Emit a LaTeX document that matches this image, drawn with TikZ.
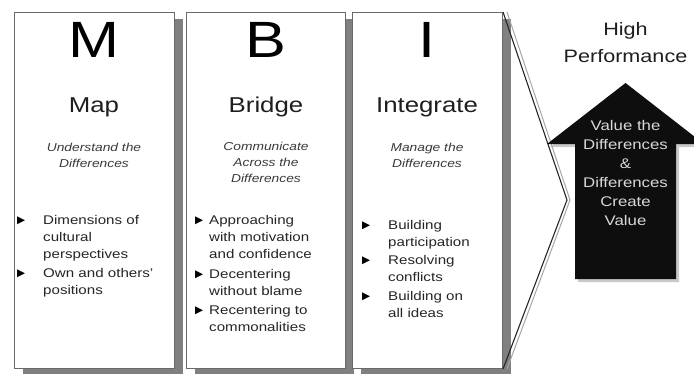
\documentclass[tikz,border=0pt]{standalone}
\usepackage{fontspec}
\setmainfont{Liberation Sans}[FakeStretch=1.2]
\newfontfamily\symfont{DejaVu Sans}
\usetikzlibrary{shadows}
\definecolor{panelline}{HTML}{6A6A6A}
\definecolor{shadowgray}{HTML}{808080}
\definecolor{titlegray}{HTML}{1E1E1E}
\definecolor{mottogray}{HTML}{3A3A3A}
\definecolor{itemgray}{HTML}{262626}
\definecolor{arrowfill}{HTML}{0E0E0E}
\definecolor{arrowtext}{HTML}{D8D8D8}
\begin{document}
% multi-line nodes are placed by the baseline of their last line
\begin{tikzpicture}[x=1pt,y=-1pt,
  panel/.style={draw=panelline, line width=1pt, fill=white, anchor=north west,
    minimum height=356, inner sep=0pt,
    general shadow={fill=shadowgray, shadow xshift=8pt, shadow yshift=-6pt}},
  letter/.style={font=\fontsize{51}{51}\selectfont, anchor=base, inner sep=0pt},
  title/.style={font=\fontsize{21.5}{24}\selectfont, anchor=base, inner sep=0pt, text=titlegray},
  motto/.style={font=\fontsize{11.5}{16}\selectfont\itshape, anchor=base, inner sep=0pt,
    align=center, text=mottogray},
  item/.style={font=\fontsize{12.6}{17}\selectfont, anchor=base west, inner sep=0pt,
    align=left, text=itemgray},
  bullet/.style={font=\symfont\fontsize{10.5}{10.5}\selectfont, anchor=base west, inner sep=0pt,
    yshift=0.5pt},
  chevron/.style={draw=black!85, line width=1.1pt, line join=miter},
]
\useasboundingbox (0,0) rectangle (694,373);
\clip (0,0) rectangle (694,373);
\fill[white] (0,0) rectangle (694,373);

% the three stage panels
\node[panel, minimum width=160] (mapbox) at (14,12) {};
\node[panel, minimum width=159] (bridgebox) at (186,12) {};
\node[panel, minimum width=150] (intbox) at (352,12) {};

% chevron pointing to the goal
\coordinate (tip) at (567,200);
\draw[shadowgray!70, line width=1pt] ([xshift=4pt]intbox.north east) -- ([xshift=3pt]tip) -- ([xshift=4pt]intbox.south east);
\draw[chevron] (intbox.north east) -- (tip) -- (intbox.south east);

% Map
\node[letter] (mletter) at (94,57) {M};
\node[title] (maptitle) at (94,112.5) {Map};
\node[motto] (mapmotto) at (94,167.5) {Understand the\\Differences};
\node[bullet] (mb1) at (17,224) {▶};
\node[item] (mi1) at (43,258) {Dimensions of\\cultural\\perspectives};
\node[bullet] (mb2) at (17,277) {▶};
\node[item] (mi2) at (43,294) {Own and others'\\positions};

% Bridge
\node[letter] (bletter) at (266,57) {B};
\node[title] (bridgetitle) at (266,112.5) {Bridge};
\node[motto] (bridgemotto) at (266,182.5) {Communicate\\Across the\\Differences};
\node[bullet] (bb1) at (195,224) {▶};
\node[item] (bi1) at (209,258) {Approaching\\with motivation\\and confidence};
\node[bullet] (bb2) at (195,278) {▶};
\node[item] (bi2) at (209,295) {Decentering\\without blame};
\node[bullet] (bb3) at (195,314) {▶};
\node[item] (bi3) at (209,331) {Recentering to\\commonalities};

% Integrate
\node[letter] (iletter) at (427,57) {I};
\node[title] (inttitle) at (427,112.5) {Integrate};
\node[motto] (intmotto) at (427,167.5) {Manage the\\Differences};
\node[bullet] (ib1) at (362,229) {▶};
\node[item] (ii1) at (388,246) {Building\\participation};
\node[bullet] (ib2) at (362,264) {▶};
\node[item] (ii2) at (388,281) {Resolving\\conflicts};
\node[bullet] (ib3) at (362,300) {▶};
\node[item] (ii3) at (388,317) {Building on\\all ideas};

% goal and the upward arrow
\node[font=\fontsize{18}{27}\selectfont, align=center, anchor=base, inner sep=0pt, text=titlegray]
  (goal) at (625.5,62) {High\\Performance};
\fill[black!35, opacity=0.6] (578,282) -- (578,147) -- (550,147) -- (628,86) -- (707,147)
  -- (679,147) -- (679,282) -- cycle;
\fill[arrowfill] (575,279) -- (575,144) -- (547,144) -- (625.5,83) -- (704,144)
  -- (676,144) -- (676,279) -- cycle;
\node[font=\fontsize{14}{19}\selectfont, align=center, anchor=base, inner sep=0pt, text=arrowtext]
  (value) at (625.5,225) {Value the\\Differences\\\&\\Differences\\Create\\Value};
\end{tikzpicture}
\end{document}
